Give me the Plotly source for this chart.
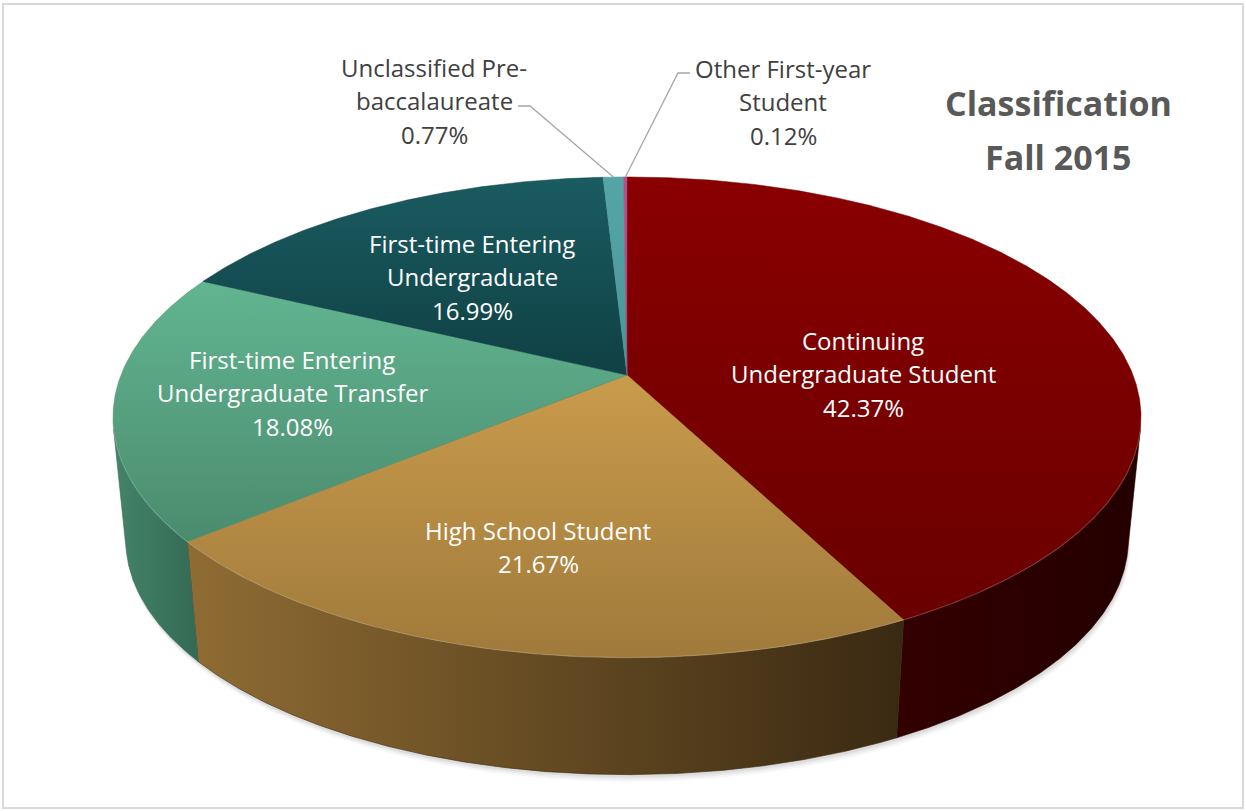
import numpy as np
import plotly.graph_objects as go

# ---------------- data ----------------
categories = [
    "Continuing Undergraduate Student",
    "High School Student",
    "First-time Entering Undergraduate Transfer",
    "First-time Entering Undergraduate",
    "Unclassified Pre-baccalaureate",
    "Other First-year Student",
]
shares = [42.37, 21.67, 18.08, 16.99, 0.77, 0.12]
label_lines = [
    ["Continuing", "Undergraduate Student"],
    ["High School Student"],
    ["First-time Entering", "Undergraduate Transfer"],
    ["First-time Entering", "Undergraduate"],
    ["Unclassified Pre-", "baccalaureate"],
    ["Other First-year", "Student"],
]
title_lines = ["Classification", "Fall 2015"]

# ---------------- styling ----------------
# top-face gradient (back -> front), side gradient (left -> right)
top_colors = [
    ("#8a0000", "#690000"),
    ("#c99b4c", "#a07a3b"),
    ("#62b591", "#4a8b6e"),
    ("#1a5c61", "#0f4044"),
    ("#55a5a7", "#4a9597"),
    ("#b8508e", "#a8407e"),
]
side_colors = [
    ("#330000", "#240000"),
    ("#8f6c33", "#3a2912"),
    ("#44836a", "#346a55"),
    ("#0d3538", "#0d3538"),
    ("#3a7a7c", "#3a7a7c"),
    ("#7a2a5a", "#7a2a5a"),
]
inner_label_color = "white"
outer_label_color = "#404040"
FONT = "Open Sans"

# projection of the tilted disc (pixel space)
CX, CY = 627.0, 375.0
AX, BY = 506.0, 232.9
K = -0.176
DEPTH_FRONT = 117.0     # wall height at the front, px
SHRINK = 0.975          # bottom disc is slightly smaller (farther away)

# label anchor layout (pixel space): centre x, first line y
label_layout = [
    (863, 340),
    (538, 530),
    (292, 359),
    (472, 243),
    (434, 67),
    (783, 68),
]
LINE_GAP = 33.5
# leader line elbows for the outside labels (pixel space)
leader_elbows = {4: [(518, 106), (530, 106)], 5: [(690, 73), (678, 73)]}


def proj(theta_deg, r=1.0):
    t = np.radians(theta_deg)
    x = r * np.sin(t)
    y = -r * np.cos(t)
    d = 1.0 + K * y
    return CX + AX * x / d, CY + BY * y / d


_, V_FRONT = proj(180.0)
VY = V_FRONT + DEPTH_FRONT / (1.0 - SHRINK)


def proj_bottom(theta_deg):
    u, v = proj(theta_deg)
    return CX + SHRINK * (u - CX), VY + SHRINK * (v - VY)


def silhouette_angle(a, b):
    ts = np.linspace(a, b, 8001)
    u, v = proj(ts)
    ub, vb = proj_bottom(ts)
    du, dv = np.gradient(u), np.gradient(v)
    cross = du * (vb - v) - dv * (ub - u)
    idx = np.where(np.diff(np.sign(cross)) != 0)[0]
    return ts[idx[0]] if len(idx) else (a + b) / 2


TR = silhouette_angle(60, 140)
TL = silhouette_angle(220, 300)

fig = go.Figure()

bounds = np.concatenate([[0.0], np.cumsum(shares)]) / sum(shares) * 360.0

# soft shadow under the pie
ts_all = np.linspace(0, 360, 721)
ub_all, vb_all = proj_bottom(ts_all)
for off, alpha in [(7, 0.035), (5, 0.045), (3, 0.06)]:
    fig.add_trace(go.Scatter(x=ub_all + off * 0.3, y=vb_all + off, mode="lines", line=dict(width=0),
                             fill="toself", fillcolor=f"rgba(0,0,0,{alpha})",
                             hoverinfo="skip", showlegend=False))

# side walls
for i in range(len(shares)):
    lo, hi = max(bounds[i], TR), min(bounds[i + 1], TL)
    if hi <= lo:
        continue
    ts = np.linspace(lo, hi, max(4, int((hi - lo) * 3)))
    ut, vt = proj(ts)
    ub, vb = proj_bottom(ts)
    xs = np.concatenate([ut, ub[::-1], ut[:1]])
    ys = np.concatenate([vt, vb[::-1], vt[:1]])
    c0, c1 = side_colors[i]
    fig.add_trace(go.Scatter(
        x=xs, y=ys, mode="lines", line=dict(width=0.6, color=c1), fill="toself",
        fillgradient=dict(type="horizontal", colorscale=[[0, c0], [1, c1]]),
        hoverinfo="skip", showlegend=False))

# top faces (y axis is reversed, so the gradient scale runs front -> back)
for i in range(len(shares)):
    t0, t1 = bounds[i], bounds[i + 1]
    ts = np.linspace(t0, t1, max(4, int((t1 - t0) * 3)))
    ur, vr = proj(ts)
    xs = np.concatenate([[CX], ur, [CX]])
    ys = np.concatenate([[CY], vr, [CY]])
    c0, c1 = top_colors[i]
    fig.add_trace(go.Scatter(
        x=xs, y=ys, mode="lines", line=dict(width=0.5, color=c1), fill="toself",
        fillgradient=dict(type="vertical", colorscale=[[0, c1], [1, c0]]),
        hoverinfo="text", text=f"{categories[i]}: {shares[i]:.2f}%", showlegend=False))

# faint highlight on the front top rim
ts = np.linspace(TR, TL, 400)
ur, vr = proj(ts)
fig.add_trace(go.Scatter(x=ur, y=vr, mode="lines", line=dict(width=1.2, color="rgba(255,255,255,0.18)"),
                         hoverinfo="skip", showlegend=False))

# leader lines for the small slices
for i, elbow in leader_elbows.items():
    mid = (bounds[i] + bounds[i + 1]) / 2
    ue, ve = proj(mid)
    xs = [p[0] for p in elbow] + [float(ue)]
    ys = [p[1] for p in elbow] + [float(ve)]
    fig.add_trace(go.Scatter(x=xs, y=ys, mode="lines", line=dict(width=1.3, color="#a6a6a6"),
                             hoverinfo="skip", showlegend=False))

annotations = []


def add_text(lines, cx, y0, size, color, gap, bold=False):
    for j, s in enumerate(lines):
        txt = f"<b>{s}</b>" if bold else s
        annotations.append(dict(x=cx, y=y0 + j * gap, xref="x", yref="y", text=txt, showarrow=False,
                                xanchor="center", yanchor="middle",
                                font=dict(family=FONT, size=size, color=color)))


for i in range(len(shares)):
    cx, y0 = label_layout[i]
    lines = label_lines[i] + [f"{shares[i]:.2f}%"]
    color = inner_label_color if i < 4 else outer_label_color
    add_text(lines, cx, y0, 24, color, LINE_GAP)

add_text(title_lines, 1058, 103, 34, "#595959", 54, bold=True)

fig.update_layout(
    width=1246, height=811, margin=dict(l=0, r=0, t=0, b=0),
    paper_bgcolor="white", plot_bgcolor="white",
    xaxis=dict(range=[0, 1246], visible=False, fixedrange=True),
    yaxis=dict(range=[811, 0], visible=False, fixedrange=True),
    annotations=annotations,
    shapes=[dict(type="rect", xref="x", yref="y", x0=3, y0=4, x1=1243, y1=808,
                 line=dict(color="#d9d9d9", width=2), fillcolor="rgba(0,0,0,0)", layer="above")],
    showlegend=False,
)

fig.write_html("out.html", config={"displayModeBar": False},
               post_script="document.body.style.margin='0';document.body.style.overflow='hidden';")
